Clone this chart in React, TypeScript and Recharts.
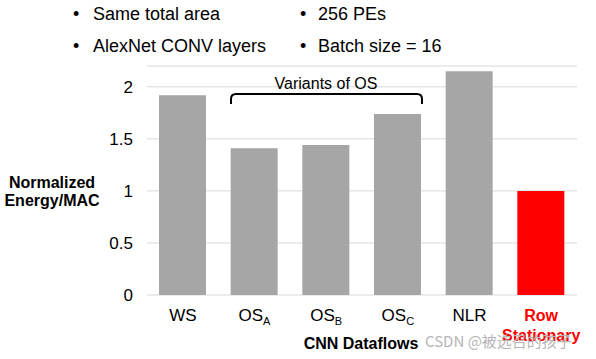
import { BarChart, Bar, XAxis, YAxis, CartesianGrid, Cell } from "recharts";

const categories = ["WS", "OS_A", "OS_B", "OS_C", "NLR", "Row Stationary"];
const energyPerMac = [1.92, 1.41, 1.44, 1.74, 2.15, 1.0];
const yTicks = [0, 0.5, 1, 1.5, 2];
const bulletsLeft = ["Same total area", "AlexNet CONV layers"];
const bulletsRight = ["256 PEs", "Batch size = 16"];

const highlight = "Row Stationary";
const FONT = "'Liberation Sans', Arial, sans-serif";

const data = categories.map((name, i) => ({ name, value: energyPerMac[i] }));

const XTick = (props: any) => {
  const { x, y, payload } = props;
  const label: string = payload.value;
  if (label === highlight) {
    const words = label.split(" ");
    return (
      <text x={x} y={y} textAnchor="middle" fill="#ff0000" fontFamily={FONT} fontSize={16} fontWeight="bold">
        {words.map((w, i) => (
          <tspan key={i} x={x} dy={i === 0 ? 26 : 20}>
            {w}
          </tspan>
        ))}
      </text>
    );
  }
  const [main, sub] = label.split("_");
  return (
    <text x={x} y={y + 26} textAnchor="middle" fill="#000" fontFamily={FONT} fontSize={17}>
      {main}
      {sub && (
        <tspan fontSize={11} dy={4}>
          {sub}
        </tspan>
      )}
    </text>
  );
};

export default function App() {
  return (
    <div style={{ position: "absolute", left: 0, top: 0, width: 596, height: 359, background: "#fff" }}>
      <BarChart
        width={596}
        height={359}
        data={data}
        margin={{ top: 66, right: 19, bottom: 0, left: 0 }}
      >
        <CartesianGrid vertical={false} stroke="#d9d9d9" />
        <XAxis
          dataKey="name"
          height={64}
          axisLine={false}
          tickLine={false}
          tickSize={0}
          tickMargin={0}
          interval={0}
          tick={<XTick />}
        />
        <YAxis
          width={147}
          domain={[0, 2.2]}
          ticks={yTicks}
          axisLine={false}
          tickLine={false}
          tickSize={0}
          tickMargin={14}
          tick={{ fill: "#000", fontSize: 17, fontFamily: FONT }}
        />
        <Bar dataKey="value" barSize={47} isAnimationActive={false}>
          {data.map((d) => (
            <Cell key={d.name} fill={d.name === highlight ? "#ff0000" : "#a6a6a6"} />
          ))}
        </Bar>
      </BarChart>
      <svg
        width={596}
        height={359}
        style={{ position: "absolute", left: 0, top: 0, pointerEvents: "none" }}
        fontFamily={FONT}
      >
        {bulletsLeft.map((t, i) => (
          <g key={t}>
            <text x={73} y={20 + i * 32} fontSize={18}>•</text>
            <text x={93} y={20 + i * 32} fontSize={18}>{t}</text>
          </g>
        ))}
        {bulletsRight.map((t, i) => (
          <g key={t}>
            <text x={300} y={20 + i * 32} fontSize={18}>•</text>
            <text x={318} y={20 + i * 32} fontSize={18}>{t}</text>
          </g>
        ))}
        <text x={326} y={89} fontSize={16} textAnchor="middle">Variants of OS</text>
        <path
          d="M231 104 L231 99 Q231 94 236 94 L417 94 Q422 94 422 99 L422 104"
          fill="none"
          stroke="#000"
          strokeWidth={2}
        />
        <text fontSize={16} fontWeight="bold" textAnchor="middle">
          <tspan x={52} y={188}>Normalized</tspan>
          <tspan x={52} y={206}>Energy/MAC</tspan>
        </text>
        <text x={361} y={349} fontSize={16} fontWeight="bold" textAnchor="middle">CNN Dataflows</text>
        <text x={425} y={347} fontSize={15} fill="#b5b5b5" fontFamily="'Noto Sans CJK SC', sans-serif">
          CSDN @被选召的孩子
        </text>
      </svg>
    </div>
  );
}
